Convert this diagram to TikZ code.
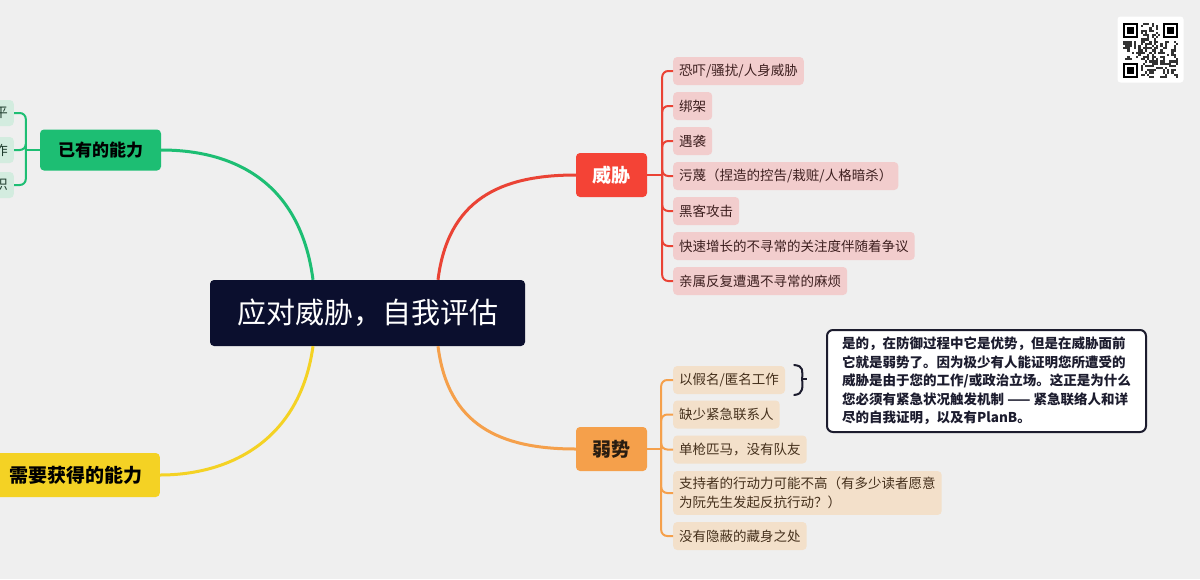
\documentclass[tikz,border=0pt]{standalone}
\usepackage{fontspec}
\setmainfont{Noto Sans CJK SC}
\usetikzlibrary{positioning,calc,decorations.pathreplacing}
\definecolor{bgcol}{HTML}{EFEFEF}
\definecolor{rootcol}{HTML}{0B0F2E}
\definecolor{threatcol}{HTML}{F44336}
\definecolor{threatline}{HTML}{EA4335}
\definecolor{threatleaf}{HTML}{F2CDCD}
\definecolor{threattext}{HTML}{3D1F1F}
\definecolor{weakcol}{HTML}{F5A04B}
\definecolor{weakleaf}{HTML}{F3E0CA}
\definecolor{weaktext}{HTML}{45301C}
\definecolor{havecol}{HTML}{1DBE73}
\definecolor{haveleaf}{HTML}{D3ECDF}
\definecolor{havetext}{HTML}{1F3D2E}
\definecolor{needcol}{HTML}{F4D224}
\definecolor{notecol}{HTML}{1C1C2E}
\begin{document}
\begin{tikzpicture}[x=1pt, y=-1pt,
  branch/.style={rounded corners=4pt, font=\bfseries\fontsize{19}{22}\selectfont,
                 minimum height=44pt, inner xsep=17pt, text=black},
  leaf/.style={rounded corners=4pt, anchor=west, font=\fontsize{13.5}{19}\selectfont,
               minimum height=28pt, inner xsep=6pt, align=left},
  link/.style={line width=2pt, rounded corners=6pt},
  arm/.style={line width=3pt}
]
  \useasboundingbox (0,0) rectangle (1200,579);
  \clip (0,0) rectangle (1200,579);
  \fill[bgcol] (0,0) rectangle (1200,579);

  % Root and main branches
  \node[fill=rootcol, text=white, rounded corners=4pt, minimum width=315pt,
        minimum height=66pt, font=\fontsize{29}{34}\selectfont] (root) at (367.5,313)
    {应对威胁，自我评估};
  \node[branch, fill=threatcol, text=white, minimum width=71pt, inner xsep=0pt]
    (threat) at (611.5,175) {威胁};
  \node[branch, fill=weakcol, text=weaktext!60!black, minimum width=71pt, inner xsep=0pt]
    (weak) at (611.5,449) {弱势};
  \node[branch, fill=havecol, font=\bfseries\fontsize{17}{20}\selectfont,
        minimum height=41pt, minimum width=121pt, inner xsep=0pt] (have) at (100.5,150)
    {已有的能力};
  \node[branch, fill=needcol, anchor=east] (need) at (160,475) {需要获得的能力};

  \coordinate (rtr) at ($(root.north)+(70.5,0)$);
  \coordinate (rtl) at ($(root.north)+(-54.5,0)$);
  \coordinate (rbr) at ($(root.south)+(70.5,0)$);
  \coordinate (rbl) at ($(root.south)+(-54.5,0)$);
  \draw[arm, threatline] (rtr) .. controls +(10,-80) and +(-76,0) .. (threat.west);
  \draw[arm, weakcol]    (rbr) .. controls +(10,79) and +(-76,0) .. (weak.west);
  \draw[arm, havecol]    (rtl) .. controls +(-13,-100) and +(70,0) .. (have.east);
  \draw[arm, needcol]    (rbl) .. controls +(-13,94) and +(70,0) .. (need.east);

  % Threat leaves
  \foreach \txt [count=\i from 0] in {恐吓/骚扰/人身威胁, 绑架, 遇袭,
      污蔑（捏造的控告/栽赃/人格暗杀）, 黑客攻击,
      快速增长的不寻常的关注度伴随着争议, 亲属反复遭遇不寻常的麻烦} {
    \node[leaf, fill=threatleaf, text=threattext] (t\i) at (673,{71+35*\i}) {\txt};
  }
  \coordinate (thub) at ($(threat.east)+(15,0)$);
  \draw[link, threatline] (threat.east) -- (thub);
  \foreach \i in {0,...,6}
    \draw[link, threatline] (thub) |- (t\i.west);

  % Weakness leaves
  \node[leaf, fill=weakleaf, text=weaktext] (w1) at (673,380) {以假名/匿名工作};
  \node[leaf, fill=weakleaf, text=weaktext] (w2) at (673,414.5) {缺少紧急联系人};
  \node[leaf, fill=weakleaf, text=weaktext] (w3) at (673,449.5) {单枪匹马，没有队友};
  \node[leaf, fill=weakleaf, text=weaktext, inner ysep=6pt] (w4) at (673,493)
    {支持者的行动力可能不高（有多少读者愿意\\为阮先生发起反抗行动？）};
  \node[leaf, fill=weakleaf, text=weaktext] (w5) at (673,536) {没有隐蔽的藏身之处};
  \coordinate (whub) at ($(weak.east)+(14,0)$);
  \draw[link, weakcol] (weak.east) -- (whub);
  \foreach \i in {1,...,5}
    \draw[link, weakcol] (whub) |- (w\i.west);

  % Note on the first weakness
  \coordinate (tip) at ($(w1.east)+(22,-1)$);
  \draw[notecol, line width=2pt, line cap=round]
    ($(w1.east)+(9,-15)$) .. controls +(10,1) and +(0,-8) .. ($(w1.east)+(17,-1)$)
    .. controls +(0,8) and +(10,-1) .. ($(w1.east)+(9,15)$);
  \draw[notecol, line width=2pt] ($(w1.east)+(17,-1)$) -- (tip);
  \node[draw=notecol, line width=2pt, fill=white, rounded corners=6pt, anchor=north west,
        minimum width=319pt, minimum height=102pt, align=left, text=notecol,
        font=\bfseries\fontsize{13.5}{18.5}\selectfont] (note) at (826,329)
    {是的，在防御过程中它是优势，但是在威胁面前\\
     它就是弱势了。因为极少有人能证明您所遭受的\\
     威胁是由于您的工作/或政治立场。这正是为什么\\
     您必须有紧急状况触发机制 —— 紧急联络人和详\\
     尽的自我证明，以及有PlanB。};

  % Existing abilities (cut at the left edge)
  \foreach \txt/\yy [count=\i] in {平/113, 作/150, 识/185}
    \node[rounded corners=4pt, anchor=east, fill=haveleaf, text=havetext,
          font=\fontsize{13.5}{19}\selectfont, minimum height=26pt, inner xsep=6pt]
      (h\i) at (14,\yy) {\txt};
  \coordinate (hhub) at ($(have.west)+(-14,0)$);
  \draw[link, havecol] (have.west) -- (hhub);
  \foreach \i in {1,2,3}
    \draw[link, havecol] (hhub) |- (h\i.east);

  % QR code
  \node[fill=white, rounded corners=3pt, minimum size=66pt, inner sep=0pt] (qr)
    at (1150.5,49.5) {};
  \pgfmathsetseed{7}
  \foreach \i in {0,...,24} {
    \foreach \j in {0,...,24} {
      \pgfmathtruncatemacro\bit{((\i<8 && \j<8) || (\i>16 && \j<8) || (\i<8 && \j>16)) ? 0 : (rnd>0.55)}
      \ifnum\bit=1
        \fill[black!80] ({1123+2.2*\i},{23+2.2*\j}) rectangle +(2.2,2.2);
      \fi
    }
  }
  \foreach \fx/\fy in {1123/23, 1162.6/23, 1123/62.6} {
    \fill (\fx,\fy) rectangle +(15.4,15.4);
    \fill[white] ({\fx+2.2},{\fy+2.2}) rectangle +(11,11);
    \fill ({\fx+4.4},{\fy+4.4}) rectangle +(6.6,6.6);
  }
\end{tikzpicture}
\end{document}
